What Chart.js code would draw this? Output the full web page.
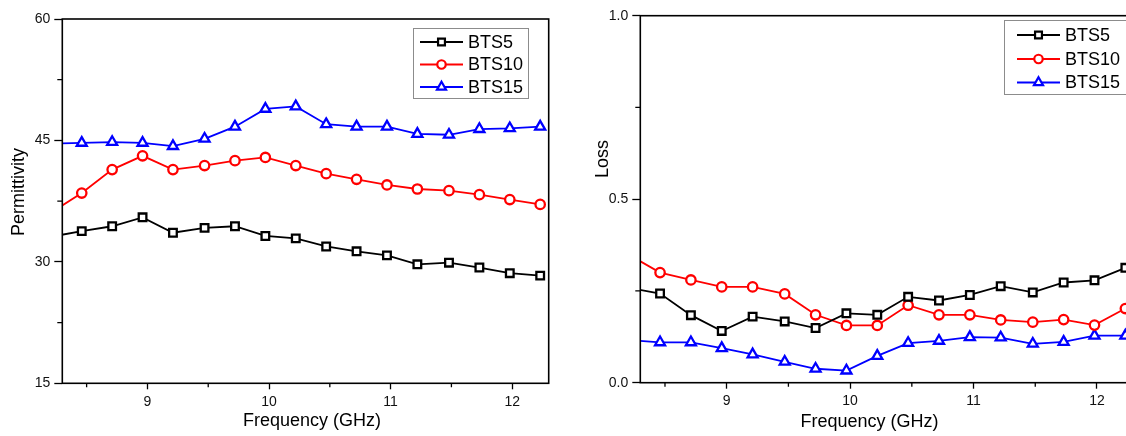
<!DOCTYPE html>
<html>
<head>
<meta charset="utf-8">
<script src="https://cdn.jsdelivr.net/npm/chart.js@4.4.1/dist/chart.umd.min.js"></script>
<style>
    html, body { margin: 0; padding: 0; background: #fff; overflow: hidden; width: 1126px; height: 436px; }
    canvas { position: absolute; top: 0; }
    #permChart { left: 0; }
    #lossChart { left: 560px; }
</style>
</head>
<body>
<canvas id="permChart" width="560" height="436"></canvas>
<canvas id="lossChart" width="600" height="436"></canvas>
<script>
// frequency points (GHz); the first one sits just left of the visible axis range
const freq = [8.21, 8.46, 8.71, 8.96, 9.21, 9.47, 9.72, 9.97, 10.22, 10.47, 10.72, 10.97, 11.22, 11.48, 11.73, 11.98, 12.23];

const seriesNames = ['BTS5', 'BTS10', 'BTS15'];

const permBTS5 = [33.1, 33.8, 34.4, 35.5, 33.6, 34.2, 34.4, 33.2, 32.9, 31.9, 31.3, 30.8, 29.7, 29.9, 29.3, 28.6, 28.3];
const permBTS10 = [36.1, 38.5, 41.4, 43.1, 41.4, 41.9, 42.5, 42.9, 41.9, 40.9, 40.2, 39.5, 39.0, 38.8, 38.3, 37.7, 37.1];
const permBTS15 = [44.6, 44.7, 44.8, 44.7, 44.3, 45.2, 46.7, 48.9, 49.2, 47.0, 46.7, 46.7, 45.8, 45.7, 46.4, 46.5, 46.7];

const lossBTS5 = [0.258, 0.243, 0.184, 0.141, 0.180, 0.167, 0.149, 0.189, 0.185, 0.234, 0.224, 0.239, 0.263, 0.246, 0.273, 0.279, 0.313];
const lossBTS10 = [0.348, 0.300, 0.280, 0.261, 0.261, 0.242, 0.185, 0.156, 0.156, 0.211, 0.185, 0.185, 0.171, 0.165, 0.172, 0.157, 0.202];
const lossBTS15 = [0.116, 0.110, 0.110, 0.094, 0.077, 0.057, 0.038, 0.033, 0.073, 0.108, 0.114, 0.124, 0.123, 0.106, 0.111, 0.128, 0.128];

const permTicks = [15, 30, 45, 60];
const permMinor = [22.5, 37.5, 52.5];
const lossTicks = [0, 0.5, 1.0];
const lossMinor = [0.25, 0.75];
const freqTicks = [9, 10, 11, 12];
const freqMinor = [8.5, 9.5, 10.5, 11.5];

const FONT = '"Liberation Sans", Arial, sans-serif';
const styles = [
    { color: '#000000', pointStyle: 'rect', radius: 5.4 },
    { color: '#ff0000', pointStyle: 'circle', radius: 4.7 },
    { color: '#0000ff', pointStyle: 'triangle', radius: 5.8 }
];

function toPoints(values) {
    return freq.map((f, i) => ({ x: f, y: values[i] }));
}

// box around the plot, short minor ticks, axis titles
const framePlugin = {
    id: 'frame',
    afterDraw(chart, args, opts) {
        const ctx = chart.ctx;
        const a = chart.chartArea;
        const xs = chart.scales.x;
        const ys = chart.scales.y;
        ctx.save();
        ctx.strokeStyle = '#000';
        ctx.lineWidth = 1.6;
        ctx.strokeRect(a.left, a.top, a.right - a.left, a.bottom - a.top);

        ctx.lineWidth = 1.3;
        ctx.beginPath();
        opts.xMinor.forEach(v => {
            const px = xs.getPixelForValue(v);
            ctx.moveTo(px, a.bottom);
            ctx.lineTo(px, a.bottom + 4);
        });
        opts.yMinor.forEach(v => {
            const py = ys.getPixelForValue(v);
            ctx.moveTo(a.left, py);
            ctx.lineTo(a.left - 5, py);
        });
        ctx.stroke();

        ctx.fillStyle = '#000';
        ctx.font = '18px ' + FONT;
        ctx.textAlign = 'center';
        ctx.textBaseline = 'middle';
        ctx.fillText(opts.xTitle, opts.xTitlePos[0], opts.xTitlePos[1]);
        ctx.translate(opts.yTitlePos[0], opts.yTitlePos[1]);
        ctx.rotate(-Math.PI / 2);
        ctx.fillText(opts.yTitle, 0, 0);
        ctx.restore();
    }
};

// legend box drawn inside the plot
const boxLegend = {
    id: 'boxLegend',
    afterDraw(chart, args, opts) {
        const ctx = chart.ctx;
        const b = opts.box;
        ctx.save();
        ctx.fillStyle = '#fff';
        ctx.fillRect(b[0], b[1], b[2], b[3]);
        ctx.strokeStyle = '#8c8c8c';
        ctx.lineWidth = 1;
        ctx.strokeRect(b[0] + 0.5, b[1] + 0.5, b[2], b[3]);
        chart.data.datasets.forEach((ds, i) => {
            const y = opts.rowY[i];
            ctx.strokeStyle = ds.borderColor;
            ctx.lineWidth = 1.8;
            ctx.beginPath();
            ctx.moveTo(opts.lineX[0], y);
            ctx.lineTo(opts.lineX[1], y);
            ctx.stroke();
            ctx.fillStyle = '#fff';
            ctx.lineWidth = 2.2;
            Chart.helpers.drawPoint(ctx, {
                pointStyle: ds.pointStyle,
                radius: ds.pointRadius * 0.9,
                rotation: 0,
                borderWidth: 2.2
            }, (opts.lineX[0] + opts.lineX[1]) / 2, y);
            ctx.fillStyle = '#000';
            ctx.font = '18px ' + FONT;
            ctx.textAlign = 'left';
            ctx.textBaseline = 'middle';
            ctx.fillText(ds.label, opts.textX, y + 1);
        });
        ctx.restore();
    }
};

function makeChart(id, series, cfg) {
    const datasets = series.map((values, i) => ({
        label: seriesNames[i],
        data: toPoints(values),
        borderColor: styles[i].color,
        backgroundColor: '#fff',
        borderWidth: 1.8,
        pointStyle: styles[i].pointStyle,
        pointRadius: styles[i].radius,
        pointBorderWidth: 2.3,
        pointBackgroundColor: '#fff',
        pointBorderColor: styles[i].color,
        tension: 0
    }));

    return new Chart(document.getElementById(id), {
        type: 'line',
        data: { datasets: datasets },
        options: {
            responsive: false,
            animation: false,
            layout: { padding: cfg.padding },
            plugins: {
                legend: { display: false },
                tooltip: { enabled: false },
                frame: cfg.frame,
                boxLegend: cfg.legend
            },
            scales: {
                x: {
                    type: 'linear',
                    min: 8.3,
                    max: 12.3,
                    afterFit: scale => { scale.height = cfg.xHeight; },
                    afterBuildTicks: scale => { scale.ticks = freqTicks.map(v => ({ value: v })); },
                    border: { display: false },
                    grid: { drawOnChartArea: false, drawTicks: true, tickLength: 6, tickWidth: 1.3, tickColor: '#000' },
                    ticks: { color: '#111', padding: 4, maxRotation: 0, font: { family: FONT, size: 14 } }
                },
                y: {
                    type: 'linear',
                    min: cfg.yMin,
                    max: cfg.yMax,
                    afterFit: scale => { scale.width = cfg.yWidth; },
                    afterBuildTicks: scale => { scale.ticks = cfg.yTicks.map(v => ({ value: v })); },
                    border: { display: false },
                    grid: { drawOnChartArea: false, drawTicks: true, tickLength: 8, tickWidth: 1.3, tickColor: '#000' },
                    ticks: {
                        color: '#111',
                        padding: 4,
                        font: { family: FONT, size: 14 },
                        callback: cfg.yFormat
                    }
                }
            }
        },
        plugins: [framePlugin, boxLegend]
    });
}

makeChart('permChart', [permBTS5, permBTS10, permBTS15], {
    padding: { left: 0, top: 19, right: 11.3, bottom: 0 },
    yWidth: 62.3,
    xHeight: 52.7,
    yMin: 15,
    yMax: 60,
    yTicks: permTicks,
    yFormat: v => String(v),
    frame: {
        xMinor: freqMinor, yMinor: permMinor,
        xTitle: 'Frequency (GHz)', xTitlePos: [312, 421],
        yTitle: 'Permittivity', yTitlePos: [19, 192]
    },
    legend: {
        box: [413, 28, 115, 70],
        lineX: [420, 463],
        textX: 468,
        rowY: [42, 64.5, 87]
    }
});

makeChart('lossChart', [lossBTS5, lossBTS10, lossBTS15], {
    padding: { left: 0, top: 15.7, right: 26, bottom: 0 },
    yWidth: 80.3,
    xHeight: 53.3,
    yMin: 0,
    yMax: 1,
    yTicks: lossTicks,
    yFormat: v => v.toFixed(1),
    frame: {
        xMinor: freqMinor, yMinor: lossMinor,
        xTitle: 'Frequency (GHz)', xTitlePos: [309.5, 422],
        yTitle: 'Loss', yTitlePos: [43, 159]
    },
    legend: {
        box: [444, 20, 140, 74],
        lineX: [457, 500],
        textX: 505,
        rowY: [35, 59, 82.5]
    }
});
</script>
</body>
</html>
